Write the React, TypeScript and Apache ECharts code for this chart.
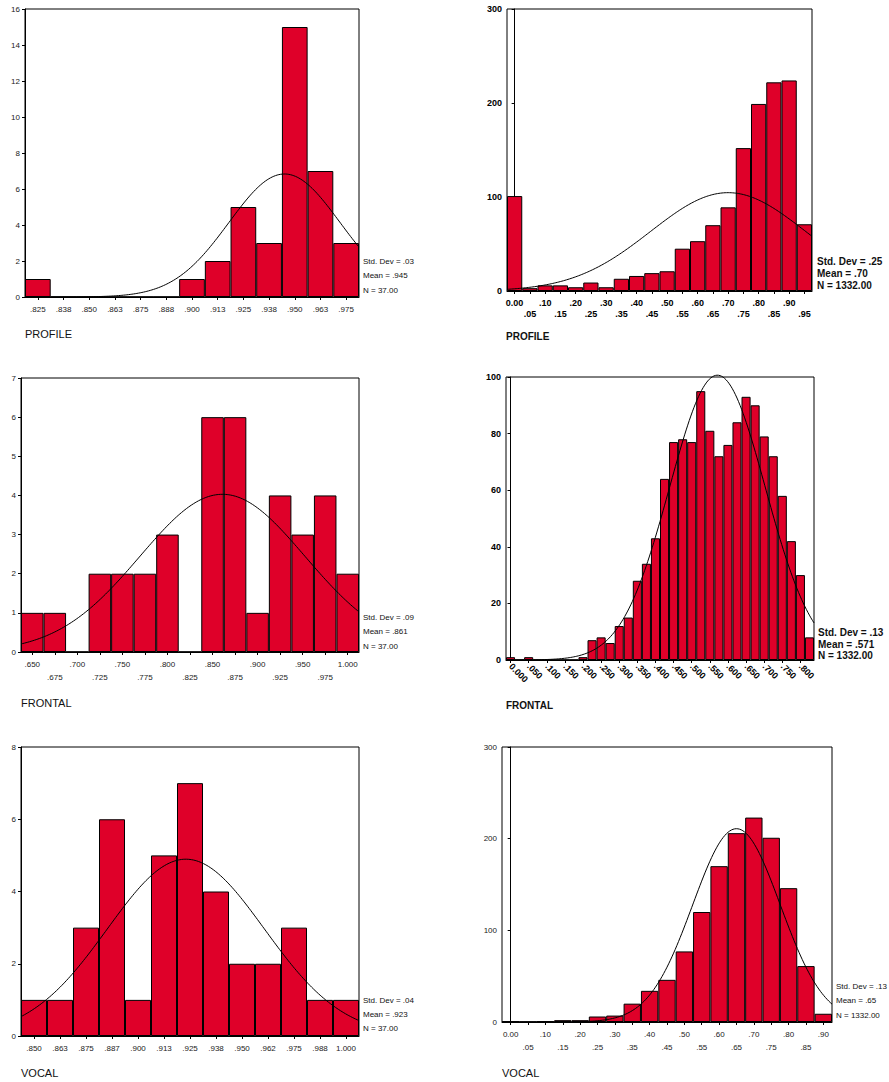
import React, { useEffect, useRef } from "react";
import * as echarts from "echarts";

const RED = "#df0029";
const SANS = "'Liberation Sans', Arial, sans-serif";

// ---- Panel 1: PROFILE (37 cases)
const p1Labels = [".825", ".838", ".850", ".863", ".875", ".888", ".900", ".913", ".925", ".938", ".950", ".963", ".975"];
const p1Counts = [1, 0, 0, 0, 0, 0, 1, 2, 5, 3, 15, 7, 3];
const p1Start = 0.825, p1Bin = 0.0125, p1Mean = 0.945, p1Sd = 0.027, p1N = 37;
const p1Stats = ["Std. Dev = .03", "Mean = .945", "N = 37.00"];

// ---- Panel 2: PROFILE (1332 cases)
const p2Labels = ["0.00", ".05", ".10", ".15", ".20", ".25", ".30", ".35", ".40", ".45", ".50", ".55", ".60", ".65", ".70", ".75", ".80", ".85", ".90", ".95"];
const p2Counts = [101, 3, 6, 6, 4, 9, 4, 13, 16, 19, 21, 45, 53, 70, 89, 152, 199, 222, 224, 71];
const p2Start = 0, p2Bin = 0.05, p2Mean = 0.7, p2Sd = 0.254, p2N = 1332;
const p2Stats = ["Std. Dev = .25", "Mean = .70", "N = 1332.00"];

// ---- Panel 3: FRONTAL (37 cases)
const p3Labels = [".650", ".675", ".700", ".725", ".750", ".775", ".800", ".825", ".850", ".875", ".900", ".925", ".950", ".975", "1.000"];
const p3Counts = [1, 1, 0, 2, 2, 2, 3, 0, 6, 6, 1, 4, 3, 4, 2];
const p3Start = 0.65, p3Bin = 0.025, p3Mean = 0.861, p3Sd = 0.0916, p3N = 37;
const p3Stats = ["Std. Dev = .09", "Mean = .861", "N = 37.00"];

// ---- Panel 4: FRONTAL (1332 cases)
const p4Labels = ["0.000", ".025", ".050", ".075", ".100", ".125", ".150", ".175", ".200", ".225", ".250", ".275", ".300", ".325", ".350", ".375", ".400", ".425", ".450", ".475", ".500", ".525", ".550", ".575", ".600", ".625", ".650", ".675", ".700", ".725", ".750", ".775", ".800", ".825"];
const p4Counts = [1, 0, 1, 0, 0, 0, 0, 0, 1, 7, 8, 6, 12, 15, 28, 34, 43, 64, 77, 78, 77, 95, 81, 72, 76, 84, 93, 90, 79, 72, 58, 42, 30, 8];
const p4Start = 0, p4Bin = 0.025, p4Mean = 0.571, p4Sd = 0.132, p4N = 1332;
const p4Stats = ["Std. Dev = .13", "Mean = .571", "N = 1332.00"];

// ---- Panel 5: VOCAL (37 cases)
const p5Labels = [".850", ".863", ".875", ".887", ".900", ".913", ".925", ".938", ".950", ".962", ".975", ".988", "1.000"];
const p5Counts = [1, 1, 3, 6, 1, 5, 7, 4, 2, 2, 3, 1, 1];
const p5Start = 0.85, p5Bin = 0.0125, p5Mean = 0.923, p5Sd = 0.0377, p5N = 37;
const p5Stats = ["Std. Dev = .04", "Mean = .923", "N = 37.00"];

// ---- Panel 6: VOCAL (1332 cases)
const p6Labels = ["0.00", ".05", ".10", ".15", ".20", ".25", ".30", ".35", ".40", ".45", ".50", ".55", ".60", ".65", ".70", ".75", ".80", ".85", ".90"];
const p6Counts = [1, 0, 1, 2, 2, 6, 7, 20, 34, 46, 77, 120, 170, 206, 223, 201, 146, 61, 9];
const p6Start = 0, p6Bin = 0.05, p6Mean = 0.65, p6Sd = 0.126, p6N = 1332;
const p6Stats = ["Std. Dev = .13", "Mean = .65", "N = 1332.00"];

type Panel = {
  labels: string[]; counts: number[]; start: number; bin: number; mean: number; sd: number; n: number;
  yMax: number; yInt: number; box: [number, number, number, number];
  mode: "single" | "stagger" | "rotate"; bold: boolean;
  stats: string[]; statX: number; statY: number[]; title: string; titleX: number; titleY: number;
};

const panels: Panel[] = [
  { labels: p1Labels, counts: p1Counts, start: p1Start, bin: p1Bin, mean: p1Mean, sd: p1Sd, n: p1N,
    yMax: 16, yInt: 2, box: [25, 9, 334, 288], mode: "single", bold: false,
    stats: p1Stats, statX: 363, statY: [261, 275, 290], title: "PROFILE", titleX: 25, titleY: 334 },
  { labels: p2Labels, counts: p2Counts, start: p2Start, bin: p2Bin, mean: p2Mean, sd: p2Sd, n: p2N,
    yMax: 300, yInt: 100, box: [507, 9, 305, 282], mode: "stagger", bold: true,
    stats: p2Stats, statX: 817, statY: [261, 273, 285], title: "PROFILE", titleX: 506, titleY: 336 },
  { labels: p3Labels, counts: p3Counts, start: p3Start, bin: p3Bin, mean: p3Mean, sd: p3Sd, n: p3N,
    yMax: 7, yInt: 1, box: [21, 378, 338, 274], mode: "stagger", bold: false,
    stats: p3Stats, statX: 363, statY: [617, 631, 646], title: "FRONTAL", titleX: 21, titleY: 703 },
  { labels: p4Labels, counts: p4Counts, start: p4Start, bin: p4Bin, mean: p4Mean, sd: p4Sd, n: p4N,
    yMax: 100, yInt: 20, box: [506, 377, 308, 283], mode: "rotate", bold: true,
    stats: p4Stats, statX: 818, statY: [632, 644, 655], title: "FRONTAL", titleX: 506, titleY: 705 },
  { labels: p5Labels, counts: p5Counts, start: p5Start, bin: p5Bin, mean: p5Mean, sd: p5Sd, n: p5N,
    yMax: 8, yInt: 2, box: [21, 747, 338, 289], mode: "single", bold: false,
    stats: p5Stats, statX: 363, statY: [1000, 1014, 1028], title: "VOCAL", titleX: 21, titleY: 1073 },
  { labels: p6Labels, counts: p6Counts, start: p6Start, bin: p6Bin, mean: p6Mean, sd: p6Sd, n: p6N,
    yMax: 300, yInt: 100, box: [502, 747, 330, 275], mode: "stagger", bold: false,
    stats: p6Stats, statX: 836, statY: [986, 1000, 1015], title: "VOCAL", titleX: 502, titleY: 1073 },
];

// Normal curve scaled to the histogram (count = N * binWidth * density)
function normalCurve(p: Panel): number[][] {
  const lo = p.start - p.bin / 2;
  const hi = p.start + (p.labels.length - 1) * p.bin + p.bin / 2;
  const pts: number[][] = [];
  const steps = 200;
  for (let k = 0; k <= steps; k++) {
    const x = lo + ((hi - lo) * k) / steps;
    const z = (x - p.mean) / p.sd;
    const y = (p.n * p.bin) / (p.sd * Math.sqrt(2 * Math.PI)) * Math.exp(-0.5 * z * z);
    pts.push([x, y]);
  }
  return pts;
}

function buildOption() {
  const grid: any[] = [];
  const xAxis: any[] = [];
  const yAxis: any[] = [];
  const series: any[] = [];
  const graphic: any[] = [];

  panels.forEach((p, i) => {
    const fw = p.bold ? "bold" : "normal";
    const color = p.bold ? "#000" : "#222";
    const fs = p.bold ? 9 : 8;
    grid.push({
      left: p.box[0], top: p.box[1], width: p.box[2], height: p.box[3],
      show: true, borderColor: "#000", borderWidth: 1, backgroundColor: "transparent",
    });
    xAxis.push({
      type: "category", gridIndex: i, data: p.labels,
      axisLine: { show: true, lineStyle: { color: "#000", width: 1 } },
      axisTick: { show: true, alignWithLabel: true, length: 3, interval: p.mode === "rotate" ? 1 : 0, lineStyle: { color: "#000" } },
      axisLabel: {
        interval: p.mode === "rotate" ? 1 : 0,
        rotate: p.mode === "rotate" ? -45 : 0,
        fontSize: fs, fontWeight: fw, fontFamily: SANS, color,
        margin: p.mode === "rotate" ? 5 : 6,
        lineHeight: p.bold ? 11 : 13,
        formatter: p.mode === "stagger" ? (v: string, idx: number) => (idx % 2 ? "\n" + v : v) : (v: string) => v,
      },
      splitLine: { show: false },
    });
    xAxis.push({
      type: "value", gridIndex: i, show: false,
      min: p.start - p.bin / 2,
      max: p.start + (p.labels.length - 1) * p.bin + p.bin / 2,
      splitLine: { show: false },
    });
    yAxis.push({
      type: "value", gridIndex: i, min: 0, max: p.yMax, interval: p.yInt,
      axisLine: { show: true, lineStyle: { color: "#000", width: 1 } },
      axisTick: { show: true, length: 3, lineStyle: { color: "#000" } },
      splitLine: { show: false },
      axisLabel: { fontSize: fs, fontWeight: fw, fontFamily: SANS, color, margin: 5 },
    });
    series.push({
      type: "bar", xAxisIndex: 2 * i, yAxisIndex: i, data: p.counts,
      barCategoryGap: "0%", barGap: "0%", silent: true,
      itemStyle: { color: RED, borderColor: "#000", borderWidth: 1 },
    });
    series.push({
      type: "line", xAxisIndex: 2 * i + 1, yAxisIndex: i, data: normalCurve(p),
      showSymbol: false, symbol: "none", clip: false, silent: true, z: 5,
      lineStyle: { color: "#000", width: 1 },
    });
    p.stats.forEach((s, k) => {
      graphic.push({
        type: "text", x: p.statX, y: p.statY[k], silent: true,
        style: {
          text: s, fill: "#111", font: `${fw} ${p.bold ? 10 : 8}px ${SANS}`,
          verticalAlign: "middle", textVerticalAlign: "middle",
        },
      });
    });
    graphic.push({
      type: "text", x: p.titleX, y: p.titleY, silent: true,
      style: {
        text: p.title, fill: "#111", font: `${fw} ${p.bold ? 10 : 11}px ${SANS}`,
        verticalAlign: "middle", textVerticalAlign: "middle",
      },
    });
  });

  return { animation: false, backgroundColor: "#fff", grid, xAxis, yAxis, series, graphic };
}

export default function App() {
  const ref = useRef<HTMLDivElement>(null);
  useEffect(() => {
    if (!ref.current) return;
    const chart = echarts.init(ref.current, undefined, { renderer: "svg" });
    chart.setOption(buildOption() as any);
    return () => chart.dispose();
  }, []);
  return (
    <div
      ref={ref}
      style={{ position: "absolute", left: 0, top: 0, width: 889, height: 1082, background: "#fff" }}
    />
  );
}
